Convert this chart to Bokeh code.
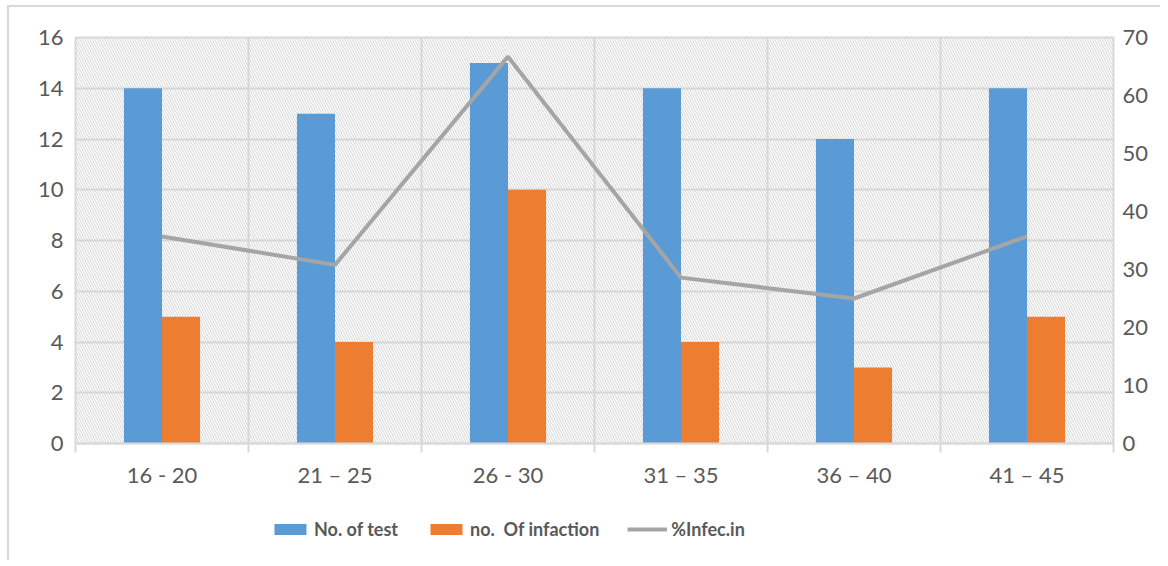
from bokeh.plotting import figure
from bokeh.layouts import column
from bokeh.models import (Range1d, LinearAxis, FixedTicker, BoxAnnotation, Legend,
                          LegendItem, ColumnDataSource)
from bokeh.transform import dodge
from bokeh.embed import file_html
from bokeh.resources import INLINE

categories = ["16 - 20", "21 \u2013 25", "26 - 30", "31 \u2013 35", "36 \u2013 40", "41 \u2013 45"]
tests = [14, 13, 15, 14, 12, 14]
infections = [5, 4, 10, 4, 3, 5]
pct_infec = [35.7, 30.8, 66.7, 28.6, 25.0, 35.7]
left_ticks = [0, 2, 4, 6, 8, 10, 12, 14, 16]
right_ticks = [0, 10, 20, 30, 40, 50, 60, 70]
series_names = ["No. of test", "no.  Of infaction", "%Infec.in"]

BLUE = "#5B9BD5"
ORANGE = "#ED7D31"
GRAY = "#A5A5A5"
GRID = "#d9d9d9"
TEXT = "#595959"
FONT = "Lato"

centers = [i + 0.5 for i in range(len(categories))]
boundaries = list(range(len(categories) + 1))
bw = 0.22

src = ColumnDataSource(dict(x=centers, tests=tests, inf=infections, pct=pct_infec))

p = figure(frame_width=1038, frame_height=406, x_range=Range1d(0, len(categories)),
           y_range=Range1d(0, 16), output_backend="svg", toolbar_location=None,
           min_border_left=66, min_border_right=47, min_border_top=30,
           min_border_bottom=0, outline_line_color=GRID, outline_line_width=2)
p.extra_y_ranges = {"pct": Range1d(0, 70)}

hatch = BoxAnnotation(fill_alpha=0, line_color=None, hatch_pattern="\\",
                      hatch_color="#d3d3d3", hatch_scale=5, hatch_weight=1,
                      level="underlay")
p.add_layout(hatch)

p.vbar(x=dodge("x", -bw / 2, range=p.x_range), top="tests", width=bw,
       source=src, fill_color=BLUE, line_color=None)
p.vbar(x=dodge("x", bw / 2, range=p.x_range), top="inf", width=bw,
       source=src, fill_color=ORANGE, line_color=None)
p.line(x="x", y="pct", y_range_name="pct", source=src,
       line_color=GRAY, line_width=4)

# grids
p.xgrid.ticker = FixedTicker(ticks=boundaries)
p.ygrid.ticker = FixedTicker(ticks=left_ticks)
for g in (p.xgrid, p.ygrid):
    g.grid_line_color = GRID
    g.grid_line_width = 2

# x axis
xa = p.xaxis[0]
xa.ticker = FixedTicker(ticks=centers, minor_ticks=boundaries)
xa.major_label_overrides = {c: lab for c, lab in zip(centers, categories)}
xa.major_tick_line_color = None
xa.major_tick_out = 0
xa.major_tick_in = 0
xa.minor_tick_line_color = GRID
xa.minor_tick_line_width = 2
xa.minor_tick_in = 0
xa.minor_tick_out = 9
xa.axis_line_color = GRID
xa.axis_line_width = 2
xa.major_label_standoff = 8

# left axis
ya = p.yaxis[0]
ya.ticker = FixedTicker(ticks=left_ticks)

ra = LinearAxis(y_range_name="pct", ticker=FixedTicker(ticks=right_ticks))
p.add_layout(ra, "right")

for ax in (ya, ra):
    ax.axis_line_color = None
    ax.major_tick_line_color = None
    ax.minor_tick_line_color = None
    ax.major_tick_out = 0
    ax.major_tick_in = 0
    ax.minor_tick_out = 0
    ax.minor_tick_in = 0
ya.major_label_standoff = 12
ra.major_label_standoff = 9

for ax in (xa, ya, ra):
    ax.major_label_text_font = FONT
    ax.major_label_text_font_size = "22px"
    ax.major_label_text_color = TEXT

# legend strip below the chart (same series, drawn out of view; only the key shows)
lg = figure(width=1151, height=70, x_range=Range1d(1000, 1001), y_range=Range1d(1000, 1001),
            output_backend="svg", toolbar_location=None, x_axis_type=None,
            y_axis_type=None, min_border=0, outline_line_color=None)
lg.grid.visible = False
r1 = lg.vbar(x="x", top="tests", width=bw, source=src, fill_color=BLUE, line_color=None)
r2 = lg.vbar(x="x", top="inf", width=bw, source=src, fill_color=ORANGE, line_color=None)
r3 = lg.line(x="x", y="pct", source=src, line_color=GRAY, line_width=4)

legend = Legend(items=[LegendItem(label=series_names[0], renderers=[r1]),
                       LegendItem(label=series_names[1], renderers=[r2]),
                       LegendItem(label=series_names[2], renderers=[r3])],
                orientation="horizontal", location=(195, 20),
                border_line_color=None, background_fill_alpha=0,
                label_text_font=FONT, label_text_font_style="bold",
                label_text_font_size="18px", label_text_color=TEXT,
                glyph_width=40, glyph_height=14, spacing=28, margin=0,
                padding=10, label_standoff=4)
lg.add_layout(legend, "center")

layout = column(p, lg, spacing=0)
layout.styles = {"border-left": "2px solid #d9d9d9", "border-top": "2px solid #d9d9d9",
                 "margin-left": "7px", "margin-top": "5px"}

open("out.html", "w").write(file_html(layout, INLINE))
